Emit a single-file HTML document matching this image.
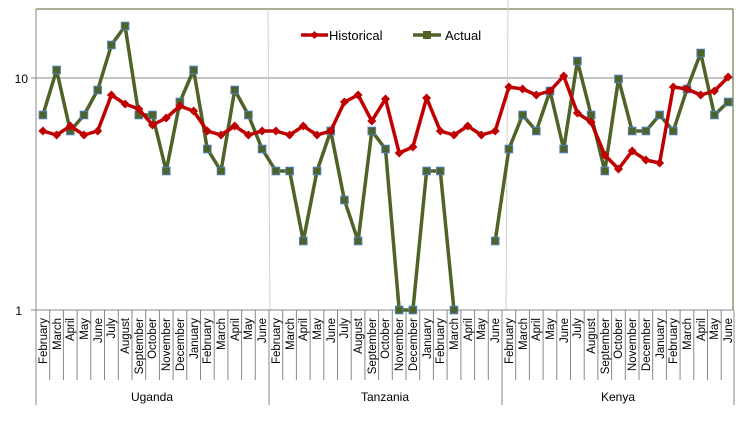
<!DOCTYPE html>
<html><head><meta charset="utf-8"><style>
html,body{margin:0;padding:0;background:#fff;}
svg{display:block;font-family:"Liberation Sans",sans-serif;}
</style></head><body>
<svg width="749" height="424" viewBox="0 0 749 424" xmlns="http://www.w3.org/2000/svg">
<defs>
<marker id="d" viewBox="-5 -5 10 10" markerWidth="10" markerHeight="10" markerUnits="userSpaceOnUse" refX="0" refY="0"><path d="M0 -4.5L4.5 0L0 4.5L-4.5 0Z" fill="#c00000"/></marker>
<marker id="s" viewBox="-5 -5 10 10" markerWidth="10" markerHeight="10" markerUnits="userSpaceOnUse" refX="0" refY="0"><rect x="-3.8" y="-3.8" width="7.6" height="7.6" fill="#4f6228" stroke="#4f81bd" stroke-width="1"/></marker>
</defs>
<!-- plot frame -->
<line x1="36" y1="9" x2="733" y2="9" stroke="#4f6228" stroke-width="1"/>
<line x1="733" y1="9" x2="733" y2="310" stroke="#4f6228" stroke-width="1"/>
<line x1="36" y1="78" x2="733" y2="78" stroke="#888" stroke-width="1"/>
<line x1="268" y1="9" x2="270" y2="310" stroke="#d0d0d0" stroke-width="1"/>
<line x1="508" y1="0" x2="506" y2="310" stroke="#d0d0d0" stroke-width="1"/>
<line x1="36" y1="9" x2="36" y2="405" stroke="#888" stroke-width="1"/>
<line x1="31" y1="78" x2="36" y2="78" stroke="#888"/>
<line x1="31" y1="310" x2="733" y2="310" stroke="#888"/>
<text x="28" y="83" font-size="12" text-anchor="end">10</text>
<text x="22" y="315" font-size="12" text-anchor="end">1</text>
<!-- category ticks -->
<g stroke="#888" stroke-width="1">
<path d="M49.7 310V380M63.4 310V380M77.1 310V380M90.8 310V380M104.5 310V380M118.3 310V380M132 310V380M145.7 310V380M159.4 310V380M173.1 310V380M186.8 310V380M200.5 310V380M214.2 310V380M227.9 310V380M241.6 310V380M255.3 310V380M282.7 310V380M296.4 310V380M310.1 310V380M323.8 310V380M337.5 310V380M351.2 310V380M364.9 310V380M378.6 310V380M392.3 310V380M406 310V380M419.7 310V380M433.4 310V380M447.1 310V380M460.9 310V380M474.6 310V380M488.3 310V380M515.7 310V380M529.4 310V380M543.1 310V380M556.8 310V380M570.5 310V380M584.2 310V380M597.9 310V380M611.6 310V380M625.3 310V380M639 310V380M652.7 310V380M666.4 310V380M680.1 310V380M693.8 310V380M707.5 310V380M721.2 310V380"/>
<path d="M269 310V405M502 310V405M734 310V405"/>
</g>
<g font-size="11.5" text-anchor="end">
<text transform="translate(47,318) rotate(-90)">February</text>
<text transform="translate(61,318) rotate(-90)">March</text>
<text transform="translate(74,318) rotate(-90)">April</text>
<text transform="translate(88,318) rotate(-90)">May</text>
<text transform="translate(102,318) rotate(-90)">June</text>
<text transform="translate(115,318) rotate(-90)">July</text>
<text transform="translate(129,318) rotate(-90)">August</text>
<text transform="translate(143,318) rotate(-90)">September</text>
<text transform="translate(156,318) rotate(-90)">October</text>
<text transform="translate(170,318) rotate(-90)">November</text>
<text transform="translate(184,318) rotate(-90)">December</text>
<text transform="translate(198,318) rotate(-90)">January</text>
<text transform="translate(211,318) rotate(-90)">February</text>
<text transform="translate(225,318) rotate(-90)">March</text>
<text transform="translate(239,318) rotate(-90)">April</text>
<text transform="translate(252,318) rotate(-90)">May</text>
<text transform="translate(266,318) rotate(-90)">June</text>
<text transform="translate(280,318) rotate(-90)">February</text>
<text transform="translate(294,318) rotate(-90)">March</text>
<text transform="translate(307,318) rotate(-90)">April</text>
<text transform="translate(321,318) rotate(-90)">May</text>
<text transform="translate(335,318) rotate(-90)">June</text>
<text transform="translate(348,318) rotate(-90)">July</text>
<text transform="translate(362,318) rotate(-90)">August</text>
<text transform="translate(376,318) rotate(-90)">September</text>
<text transform="translate(389,318) rotate(-90)">October</text>
<text transform="translate(403,318) rotate(-90)">November</text>
<text transform="translate(417,318) rotate(-90)">December</text>
<text transform="translate(431,318) rotate(-90)">January</text>
<text transform="translate(444,318) rotate(-90)">February</text>
<text transform="translate(458,318) rotate(-90)">March</text>
<text transform="translate(472,318) rotate(-90)">April</text>
<text transform="translate(485,318) rotate(-90)">May</text>
<text transform="translate(499,318) rotate(-90)">June</text>
<text transform="translate(513,318) rotate(-90)">February</text>
<text transform="translate(527,318) rotate(-90)">March</text>
<text transform="translate(540,318) rotate(-90)">April</text>
<text transform="translate(554,318) rotate(-90)">May</text>
<text transform="translate(568,318) rotate(-90)">June</text>
<text transform="translate(581,318) rotate(-90)">July</text>
<text transform="translate(595,318) rotate(-90)">August</text>
<text transform="translate(609,318) rotate(-90)">September</text>
<text transform="translate(622,318) rotate(-90)">October</text>
<text transform="translate(636,318) rotate(-90)">November</text>
<text transform="translate(650,318) rotate(-90)">December</text>
<text transform="translate(664,318) rotate(-90)">January</text>
<text transform="translate(677,318) rotate(-90)">February</text>
<text transform="translate(691,318) rotate(-90)">March</text>
<text transform="translate(705,318) rotate(-90)">April</text>
<text transform="translate(718,318) rotate(-90)">May</text>
<text transform="translate(732,318) rotate(-90)">June</text>
</g>
<g font-size="12" text-anchor="middle">
<text x="152" y="401">Uganda</text>
<text x="385" y="401">Tanzania</text>
<text x="618" y="401">Kenya</text>
</g>
<!-- Actual -->
<g fill="none" stroke="#4f6228" stroke-width="3.5" stroke-linejoin="round" marker-start="url(#s)" marker-mid="url(#s)" marker-end="url(#s)">
<polyline points="42.9,115 56.6,70 70.3,131 84,115 97.7,90 111.4,45 125.1,26 138.8,115 152.5,115 166.2,171 179.9,102 193.6,70 207.3,149 221,171 234.7,90 248.4,115 262.1,149 275.9,171 289.6,171 303.3,241 317,171 330.7,131 344.4,200 358.1,241 371.8,131 385.5,149 399.2,310 412.9,310 426.6,171 440.3,171 454,310"/>
<polyline points="495.2,241 508.9,149 522.6,115 536.3,131 550,91 563.7,149 577.4,61 591.1,115 604.8,171 618.5,79 632.2,131 645.9,131 659.6,115 673.3,131 687,89 700.7,53 714.4,115 728.1,102"/>
</g>
<!-- Historical -->
<polyline fill="none" stroke="#c00000" stroke-width="3.5" stroke-linejoin="round" marker-start="url(#d)" marker-mid="url(#d)" marker-end="url(#d)" points="42.9,131 56.6,135 70.3,126 84,135 97.7,131 111.4,95 125.1,104 138.8,109 152.5,125 166.2,118 179.9,106 193.6,111 207.3,131 221,135 234.7,126 248.4,135 262.1,131 275.9,131 289.6,135 303.3,126 317,135 330.7,131 344.4,102 358.1,95 371.8,121 385.5,99 399.2,153 412.9,147 426.6,98 440.3,131 454,135 467.7,126 481.4,135 495.2,131 508.9,87 522.6,89 536.3,95 550,91 563.7,76 577.4,113 591.1,122 604.8,155 618.5,169 632.2,151 645.9,160 659.6,163 673.3,87 687,89 700.7,95 714.4,91 728.1,77"/>
<!-- legend -->
<line x1="301" y1="35" x2="328" y2="35" stroke="#c00000" stroke-width="3.5"/>
<path d="M314.5 31L318.5 35L314.5 39L310.5 35Z" fill="#c00000"/>
<text x="329" y="40" font-size="13">Historical</text>
<line x1="413" y1="35" x2="441" y2="35" stroke="#4f6228" stroke-width="3.5"/>
<rect x="423" y="31" width="8" height="8" fill="#4f6228"/>
<text x="445" y="40" font-size="13">Actual</text>
</svg>
</body></html>
